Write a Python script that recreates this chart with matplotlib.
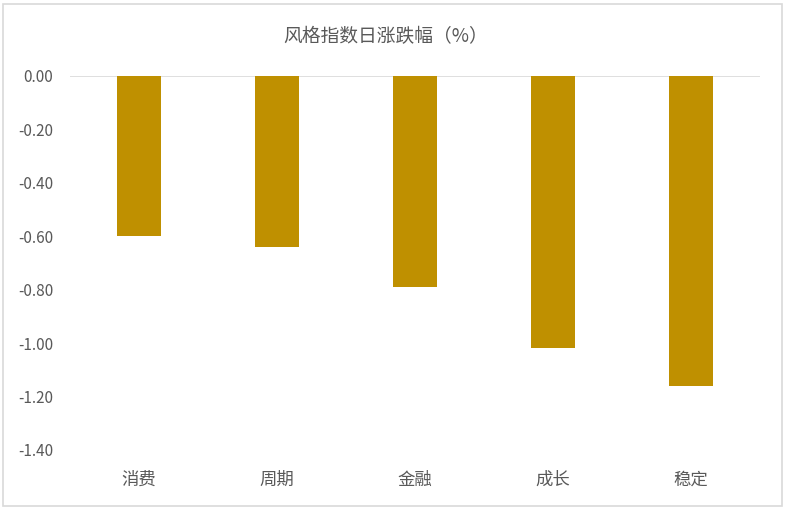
import matplotlib
matplotlib.use("Agg")
import matplotlib.pyplot as plt
from matplotlib.patches import Rectangle

plt.rcParams['font.family'] = ['Noto Sans CJK SC', 'DejaVu Sans']

categories = ['消费', '周期', '金融', '成长', '稳定']
values = [-0.60, -0.64, -0.79, -1.02, -1.16]
yticks = [0.0, -0.2, -0.4, -0.6, -0.8, -1.0, -1.2, -1.4]

fig = plt.figure(figsize=(7.85, 5.11), dpi=100)
ax = fig.add_axes([70 / 785, 1 - 450 / 511, 690 / 785, (450 - 75.7) / 511])

x = range(len(categories))
ax.bar(x, values, width=0.32, color='#BF9000', zorder=3)

ax.set_xlim(-0.5, len(categories) - 0.5)
ax.set_ylim(-1.4, 0)
ax.set_yticks(yticks)
ax.set_yticklabels(['%.2f' % v for v in yticks])
ax.set_xticks(list(x))
ax.set_xticklabels(categories)
ax.tick_params(axis='y', length=0, labelsize=11, colors='#595959', pad=12)
ax.tick_params(axis='x', length=0, labelsize=12.5, colors='#595959', pad=15)

for sp in ax.spines.values():
    sp.set_visible(False)
ax.axhline(0, color='#D9D9D9', linewidth=1.2, zorder=2)

fig.text(386 / 785, 1 - 36.5 / 511, '风格指数日涨跌幅（%）', ha='center', va='center',
         fontsize=13.5, color='#595959')

# light gray frame around the chart
fig.patches.append(Rectangle((3 / 785, 5 / 511), 779 / 785, 502 / 511,
                             transform=fig.transFigure, fill=False,
                             edgecolor='#D9D9D9', linewidth=1.2))

fig.savefig('out.png', dpi=100)
